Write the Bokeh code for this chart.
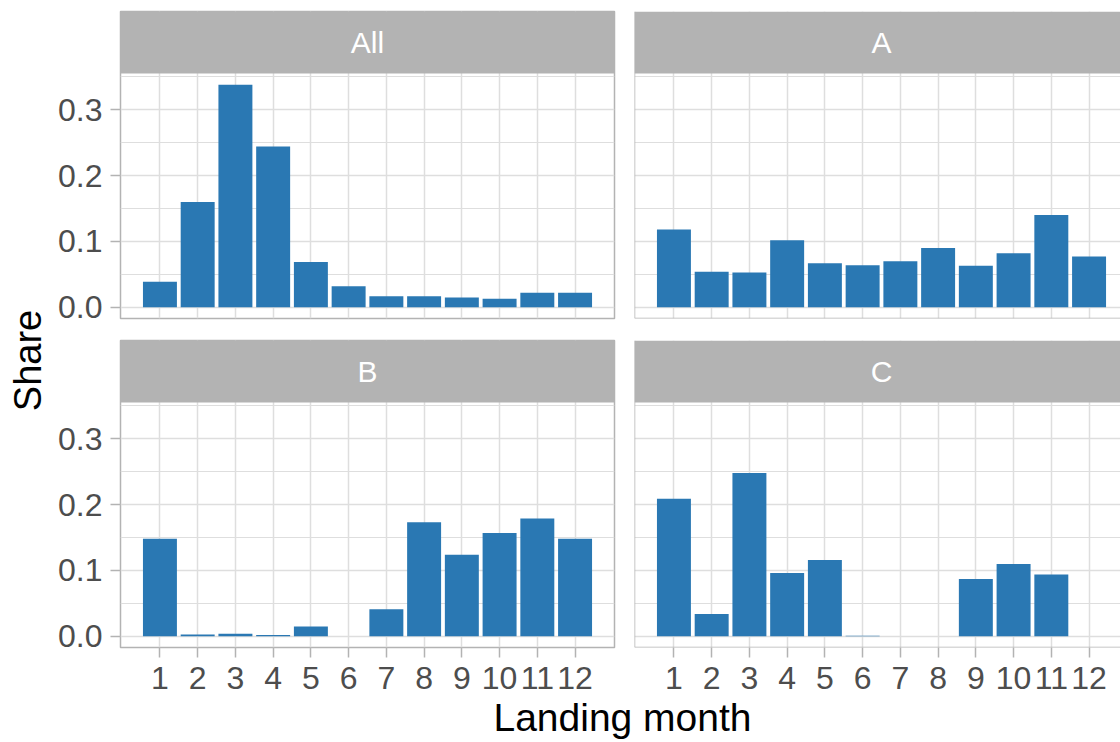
import math
from bokeh.plotting import figure
from bokeh.models import (Range1d, LinearAxis, FixedTicker, Grid, Label, Span,
                          PrintfTickFormatter)
from bokeh.layouts import row, column
from bokeh.embed import file_html
from bokeh.resources import INLINE

# ---------------- data ----------------
months = [1, 2, 3, 4, 5, 6, 7, 8, 9, 10, 11, 12]
month_labels = ["1", "2", "3", "4", "5", "6", "7", "8", "9", "10", "11", "12"]
share_all = [0.039, 0.160, 0.338, 0.244, 0.069, 0.032, 0.017, 0.017, 0.015, 0.013, 0.022, 0.022]
share_a = [0.118, 0.054, 0.053, 0.102, 0.067, 0.064, 0.070, 0.090, 0.063, 0.082, 0.140, 0.077]
share_b = [0.148, 0.003, 0.004, 0.002, 0.015, 0.0, 0.041, 0.173, 0.124, 0.157, 0.179, 0.148]
share_c = [0.209, 0.034, 0.248, 0.096, 0.116, 0.001, 0.0, 0.0, 0.087, 0.110, 0.094, 0.0]
panel_names = ["All", "A", "B", "C"]
y_ticks = [0.0, 0.1, 0.2, 0.3]
y_minor = [0.05, 0.15, 0.25, 0.35]

# ---------------- style ----------------
FONT = "Liberation Sans"
BAR = "#2A78B3"
STRIP = "#B3B3B3"
BORDER = "#B3B3B3"
GRID = "#DEDEDE"
TICKLAB = "#4D4D4D"
TICK_FS = "32px"

PLOT_H = 245
STRIP_H = 62
FULL_W = 494
RIGHT_W = 486
YLAB_W = 52
LEFT_BORDER = 68
GAP = 10
TOTAL_H = 742

ymax = max(max(share_all), max(share_a), max(share_b), max(share_c))
y_lo = -0.05 * ymax
y_hi = 1.05 * ymax
px_per_y = PLOT_H / (y_hi - y_lo)
y_top = y_hi + STRIP_H / px_per_y

x_lo = 0.55 - 0.05 * 11.9
x_hi = 12.45 + 0.05 * 11.9
px_per_x = FULL_W / (x_hi - x_lo)
x_right_end = x_lo + RIGHT_W / px_per_x
x_center = (x_lo + x_hi) / 2


def make_panel(name, values, left, bottom, top_border, bottom_border):
    fw = FULL_W if left else RIGHT_W
    mbl = LEFT_BORDER if left else GAP
    mbr = GAP if left else 0
    w = mbl + fw + mbr
    h = top_border + PLOT_H + STRIP_H + bottom_border
    p = figure(width=w, height=h, title=None, toolbar_location=None,
               output_backend="svg", x_axis_type=None, y_axis_type=None,
               x_range=Range1d(x_lo, x_hi if left else x_right_end),
               y_range=Range1d(y_lo, y_top),
               min_border_left=mbl, min_border_right=mbr,
               min_border_top=top_border, min_border_bottom=bottom_border)
    p.background_fill_color = "white"
    p.border_fill_color = "white"
    if left:
        p.outline_line_color = BORDER
        p.outline_line_width = 1.5
    else:
        p.outline_line_color = None

    xg = Grid(dimension=0, ticker=FixedTicker(ticks=months),
              grid_line_color=GRID, grid_line_width=1.5)
    yg = Grid(dimension=1, ticker=FixedTicker(ticks=y_ticks, minor_ticks=y_minor),
              grid_line_color=GRID, grid_line_width=1.5,
              minor_grid_line_color=GRID, minor_grid_line_width=1.0)
    p.add_layout(xg)
    p.add_layout(yg)

    p.vbar(x=months, top=values, bottom=0, width=0.9,
           fill_color=BAR, line_color=None)

    # strip
    p.quad(left=[x_lo], right=[x_hi], bottom=[y_hi], top=[y_top],
           fill_color=STRIP, line_color=None)
    p.add_layout(Label(x=x_center, y=(y_hi + y_top) / 2, text=name,
                       text_align="center", text_baseline="middle",
                       text_color="white", text_font=FONT,
                       text_font_size="30px"))

    if not left:
        p.add_layout(Span(location=x_lo, dimension="height",
                          line_color=BORDER, line_width=1.5))
        p.add_layout(Span(location=y_lo, dimension="width",
                          line_color=BORDER, line_width=1.5))

    if left:
        ya = LinearAxis(ticker=FixedTicker(ticks=y_ticks),
                        formatter=PrintfTickFormatter(format="%.1f"))
        ya.axis_line_color = None
        ya.major_tick_line_color = BORDER
        ya.major_tick_line_width = 1.5
        ya.major_tick_out = 10
        ya.major_tick_in = 0
        ya.minor_tick_line_color = None
        ya.major_label_text_font = FONT
        ya.major_label_text_font_size = TICK_FS
        ya.major_label_text_color = TICKLAB
        ya.major_label_standoff = 8
        p.add_layout(ya, "left")

    if bottom:
        xa = LinearAxis(ticker=FixedTicker(ticks=months),
                        major_label_overrides={m: l for m, l in zip(months, month_labels)})
        xa.axis_line_color = None
        xa.major_tick_line_color = BORDER
        xa.major_tick_line_width = 1.5
        xa.major_tick_out = 10
        xa.major_tick_in = 0
        xa.minor_tick_line_color = None
        xa.major_label_text_font = FONT
        xa.major_label_text_font_size = TICK_FS
        xa.major_label_text_color = TICKLAB
        xa.major_label_standoff = 9
        p.add_layout(xa, "below")
    return p


TOP_T, TOP_B = 11, 11
BOT_T, BOT_B = 11, 50

p_all = make_panel(panel_names[0], share_all, True, False, TOP_T, TOP_B)
p_a = make_panel(panel_names[1], share_a, False, False, TOP_T, TOP_B)
p_b = make_panel(panel_names[2], share_b, True, True, BOT_T, BOT_B)
p_c = make_panel(panel_names[3], share_c, False, True, BOT_T, BOT_B)

grid_h = (TOP_T + PLOT_H + STRIP_H + TOP_B) + (BOT_T + PLOT_H + STRIP_H + BOT_B)
total_w = YLAB_W + (LEFT_BORDER + FULL_W + GAP) + (GAP + RIGHT_W)
XLAB_H = TOTAL_H - grid_h


def blank(w, h):
    f = figure(width=w, height=h, title=None, toolbar_location=None,
               output_backend="svg", x_axis_type=None, y_axis_type=None,
               x_range=Range1d(0, w), y_range=Range1d(0, h),
               min_border=0)
    f.min_border_left = f.min_border_right = f.min_border_top = f.min_border_bottom = 0
    f.outline_line_color = None
    f.background_fill_color = "white"
    f.border_fill_color = "white"
    return f


ylab = blank(YLAB_W, grid_h)
ylab.add_layout(Label(x=27, y=grid_h - 360, text="Share", angle=math.pi / 2,
                      text_align="center", text_baseline="middle",
                      text_color="black", text_font=FONT, text_font_size="38px"))

xlab = blank(total_w, XLAB_H)
xlab.add_layout(Label(x=622, y=TOTAL_H - 717, text="Landing month",
                      text_align="center", text_baseline="alphabetic",
                      text_color="black", text_font=FONT, text_font_size="39px"))

layout = column(row(ylab, column(row(p_all, p_a), row(p_b, p_c))), xlab)

with open("out.html", "w") as fh:
    fh.write(file_html(layout, INLINE))
